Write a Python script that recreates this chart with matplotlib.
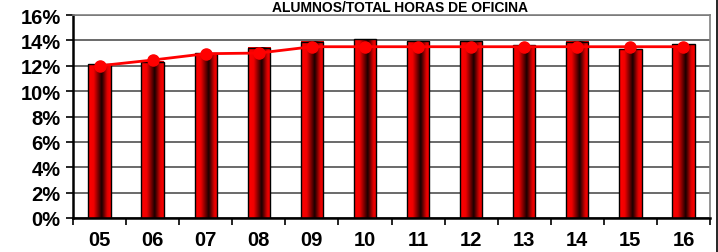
import numpy as np
import matplotlib.pyplot as plt
from matplotlib.colors import LinearSegmentedColormap
from matplotlib.ticker import PercentFormatter

# datos
anios = ['05', '06', '07', '08', '09', '10', '11', '12', '13', '14', '15', '16']
barras = [12.1, 12.3, 13.0, 13.4, 13.9, 14.1, 13.95, 13.95, 13.6, 13.9, 13.3, 13.7]
linea = [12.0, 12.45, 12.95, 13.0, 13.5, 13.5, 13.5, 13.5, 13.5, 13.5, 13.5, 13.5]

plt.rcParams['font.family'] = ['Liberation Sans', 'DejaVu Sans']
plt.rcParams['font.weight'] = 'bold'

fig = plt.figure(figsize=(7.18, 2.53), dpi=100)
ax = fig.add_axes([73/718, 1 - 219/253, (710-73)/718, (219-16)/253])

x = np.arange(len(anios))
ancho = 0.42

# degradado rojo-negro-rojo para las barras
cmap = LinearSegmentedColormap.from_list('cil', [(0, '#ff0000'), (0.25, '#f00000'),
                                                 (0.6, '#1a0000'), (0.85, '#e00000'),
                                                 (1, '#ff0000')])
grad = np.linspace(0, 1, 64).reshape(1, -1)
for xi, v in zip(x, barras):
    ax.imshow(grad, cmap=cmap, aspect='auto', zorder=2,
              extent=[xi - ancho/2, xi + ancho/2, 0, v])
    ax.add_patch(plt.Rectangle((xi - ancho/2, 0), ancho, v, fill=False,
                               edgecolor='black', linewidth=1, zorder=3))

ax.plot(x, linea, color='#ff0000', linewidth=2, marker='o', markersize=8, zorder=4)

ax.set_xlim(-0.5, len(anios) - 0.5)
ax.set_ylim(0, 16)
ax.set_yticks(np.arange(0, 17, 2))
ax.yaxis.set_major_formatter(PercentFormatter(decimals=0))
ax.set_xticks(x)
ax.set_xticklabels(anios)
ax.set_xticks(np.arange(-0.5, len(anios), 1), minor=True)
ax.tick_params(axis='x', which='major', length=0, pad=9, labelsize=14.5)
ax.tick_params(axis='x', which='minor', length=5, width=1.2, direction='out')
ax.tick_params(axis='y', length=5, width=1.2, labelsize=14.5, pad=4)
for t in ax.get_xticklabels() + ax.get_yticklabels():
    t.set_fontweight('bold')

ax.grid(axis='y', color='#505050', linewidth=1.2, zorder=0)
ax.set_axisbelow(True)
for lado in ['top', 'right']:
    ax.spines[lado].set_color('#808080')
    ax.spines[lado].set_linewidth(1.2)
for lado in ['left', 'bottom']:
    ax.spines[lado].set_color('black')
    ax.spines[lado].set_linewidth(1.8)

fig.text(400/718, 1 - 1/253, 'ALUMNOS/TOTAL HORAS DE OFICINA', ha='center', va='top',
         fontsize=10, fontweight='bold')
# borde derecho del grafico
fig.add_artist(plt.Line2D([716.5/718, 716.5/718], [0, 1], color='black', linewidth=1.2))

fig.savefig('out.png', dpi=100)
